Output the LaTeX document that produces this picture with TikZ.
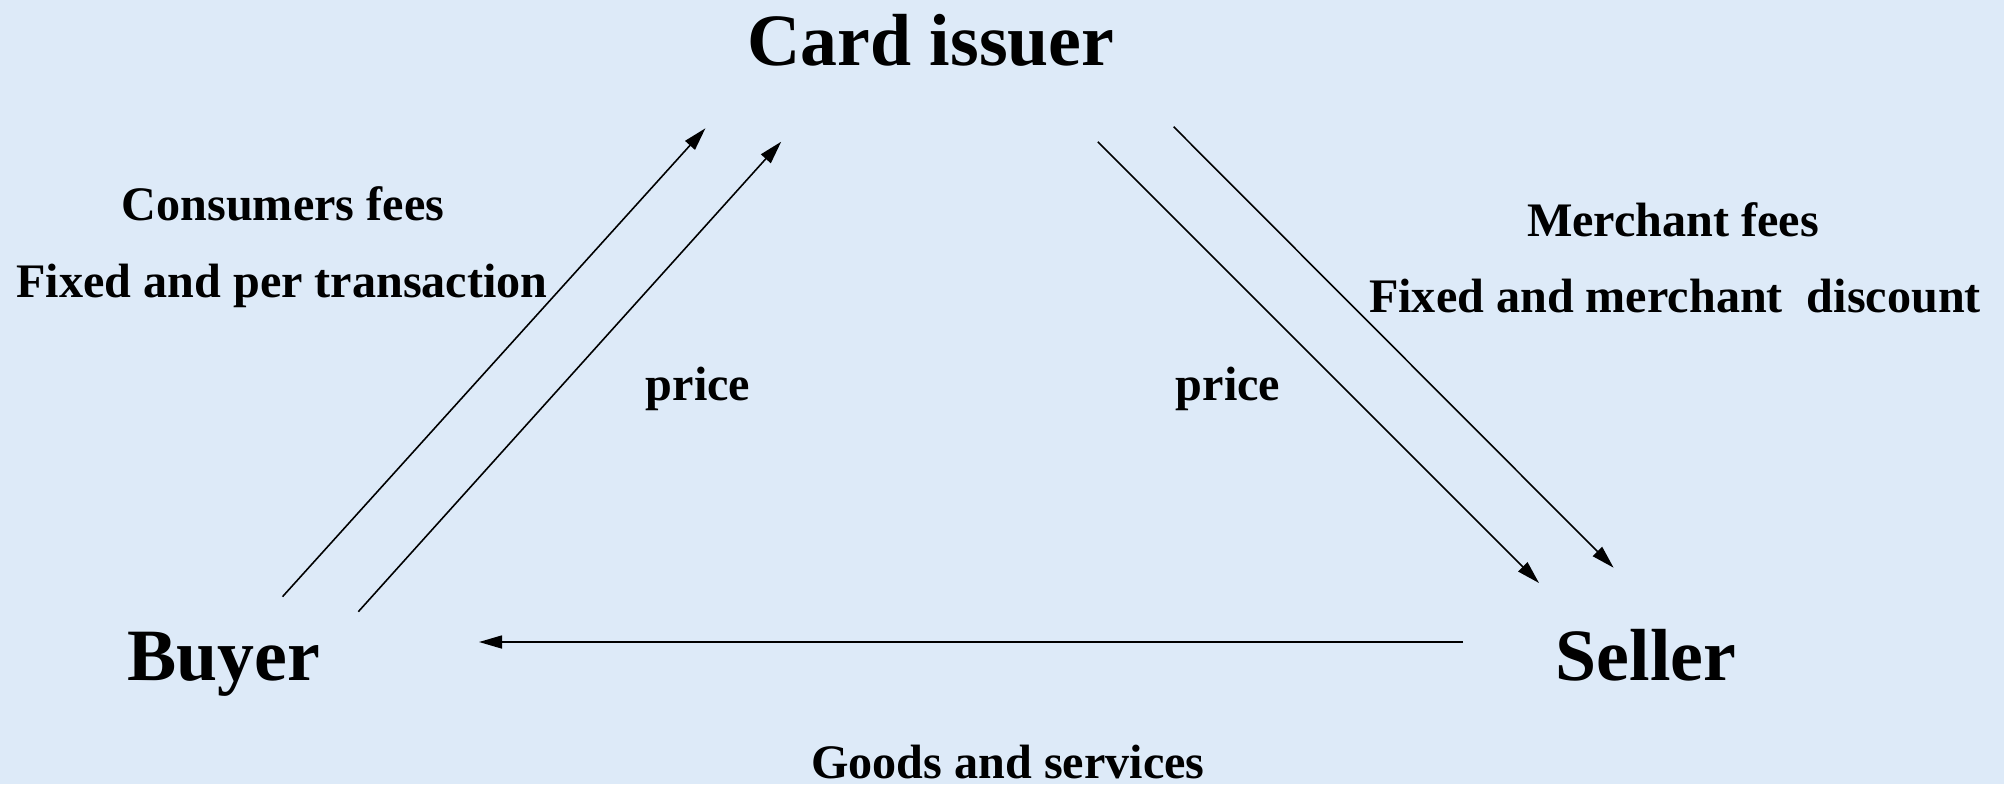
\documentclass[tikz,border=0pt]{standalone}
\usepackage{fontspec}
\setmainfont{Liberation Serif}
\usetikzlibrary{arrows.meta}
\definecolor{bgblue}{RGB}{221,234,248}
\tikzset{
  big/.style={font=\fontsize{21}{25}\selectfont\bfseries, anchor=base, inner sep=0pt},
  small/.style={font=\fontsize{13.7}{16}\selectfont\bfseries, anchor=base, inner sep=0pt},
  flow/.style={line width=0.45pt, -{Triangle[length=2.3mm,width=1.3mm]}}
}
\begin{document}
\begin{tikzpicture}[x=0.1mm,y=-0.1mm]
\fill[bgblue] (0,0) rectangle (2004,784);
\useasboundingbox (0,0) rectangle (2004,784);
% main nodes
\node[big] (card) at (931,65) {Card issuer};
\node[big] (buyer) at (224,680) {Buyer};
\node[big] (seller) at (1646,680) {Seller};
% labels
\node[small] (cfees) at (283,220) {Consumers fees};
\node[small] (cfix) at (282,297) {Fixed and per transaction};
\node[small] (mfees) at (1673,236) {Merchant fees};
\node[small] (mfix) at (1675,312) {Fixed and merchant\ \ discount};
\node[small] (pl) at (698,400) {price};
\node[small] (pr) at (1228,400) {price};
\node[small] (goods) at (1008,778) {Goods and services};
% connector end points
\coordinate (a1) at (282.5,596.7);
\coordinate (a2) at (705.4,128.3);
\coordinate (b1) at (358.3,611.7);
\coordinate (b2) at (781.2,141.7);
\coordinate (c1) at (1097.8,141.7);
\coordinate (c2) at (1539,583);
\coordinate (d1) at (1173.6,126.7);
\coordinate (d2) at (1613.6,567.7);
\coordinate (e1) at (1463,642);
\coordinate (e2) at (479,642);
% connectors
\draw[flow] (a1) -- (a2);
\draw[flow] (b1) -- (b2);
\draw[flow] (c1) -- (c2);
\draw[flow] (d1) -- (d2);
\draw[flow] (e1) -- (e2);
\end{tikzpicture}
\end{document}
